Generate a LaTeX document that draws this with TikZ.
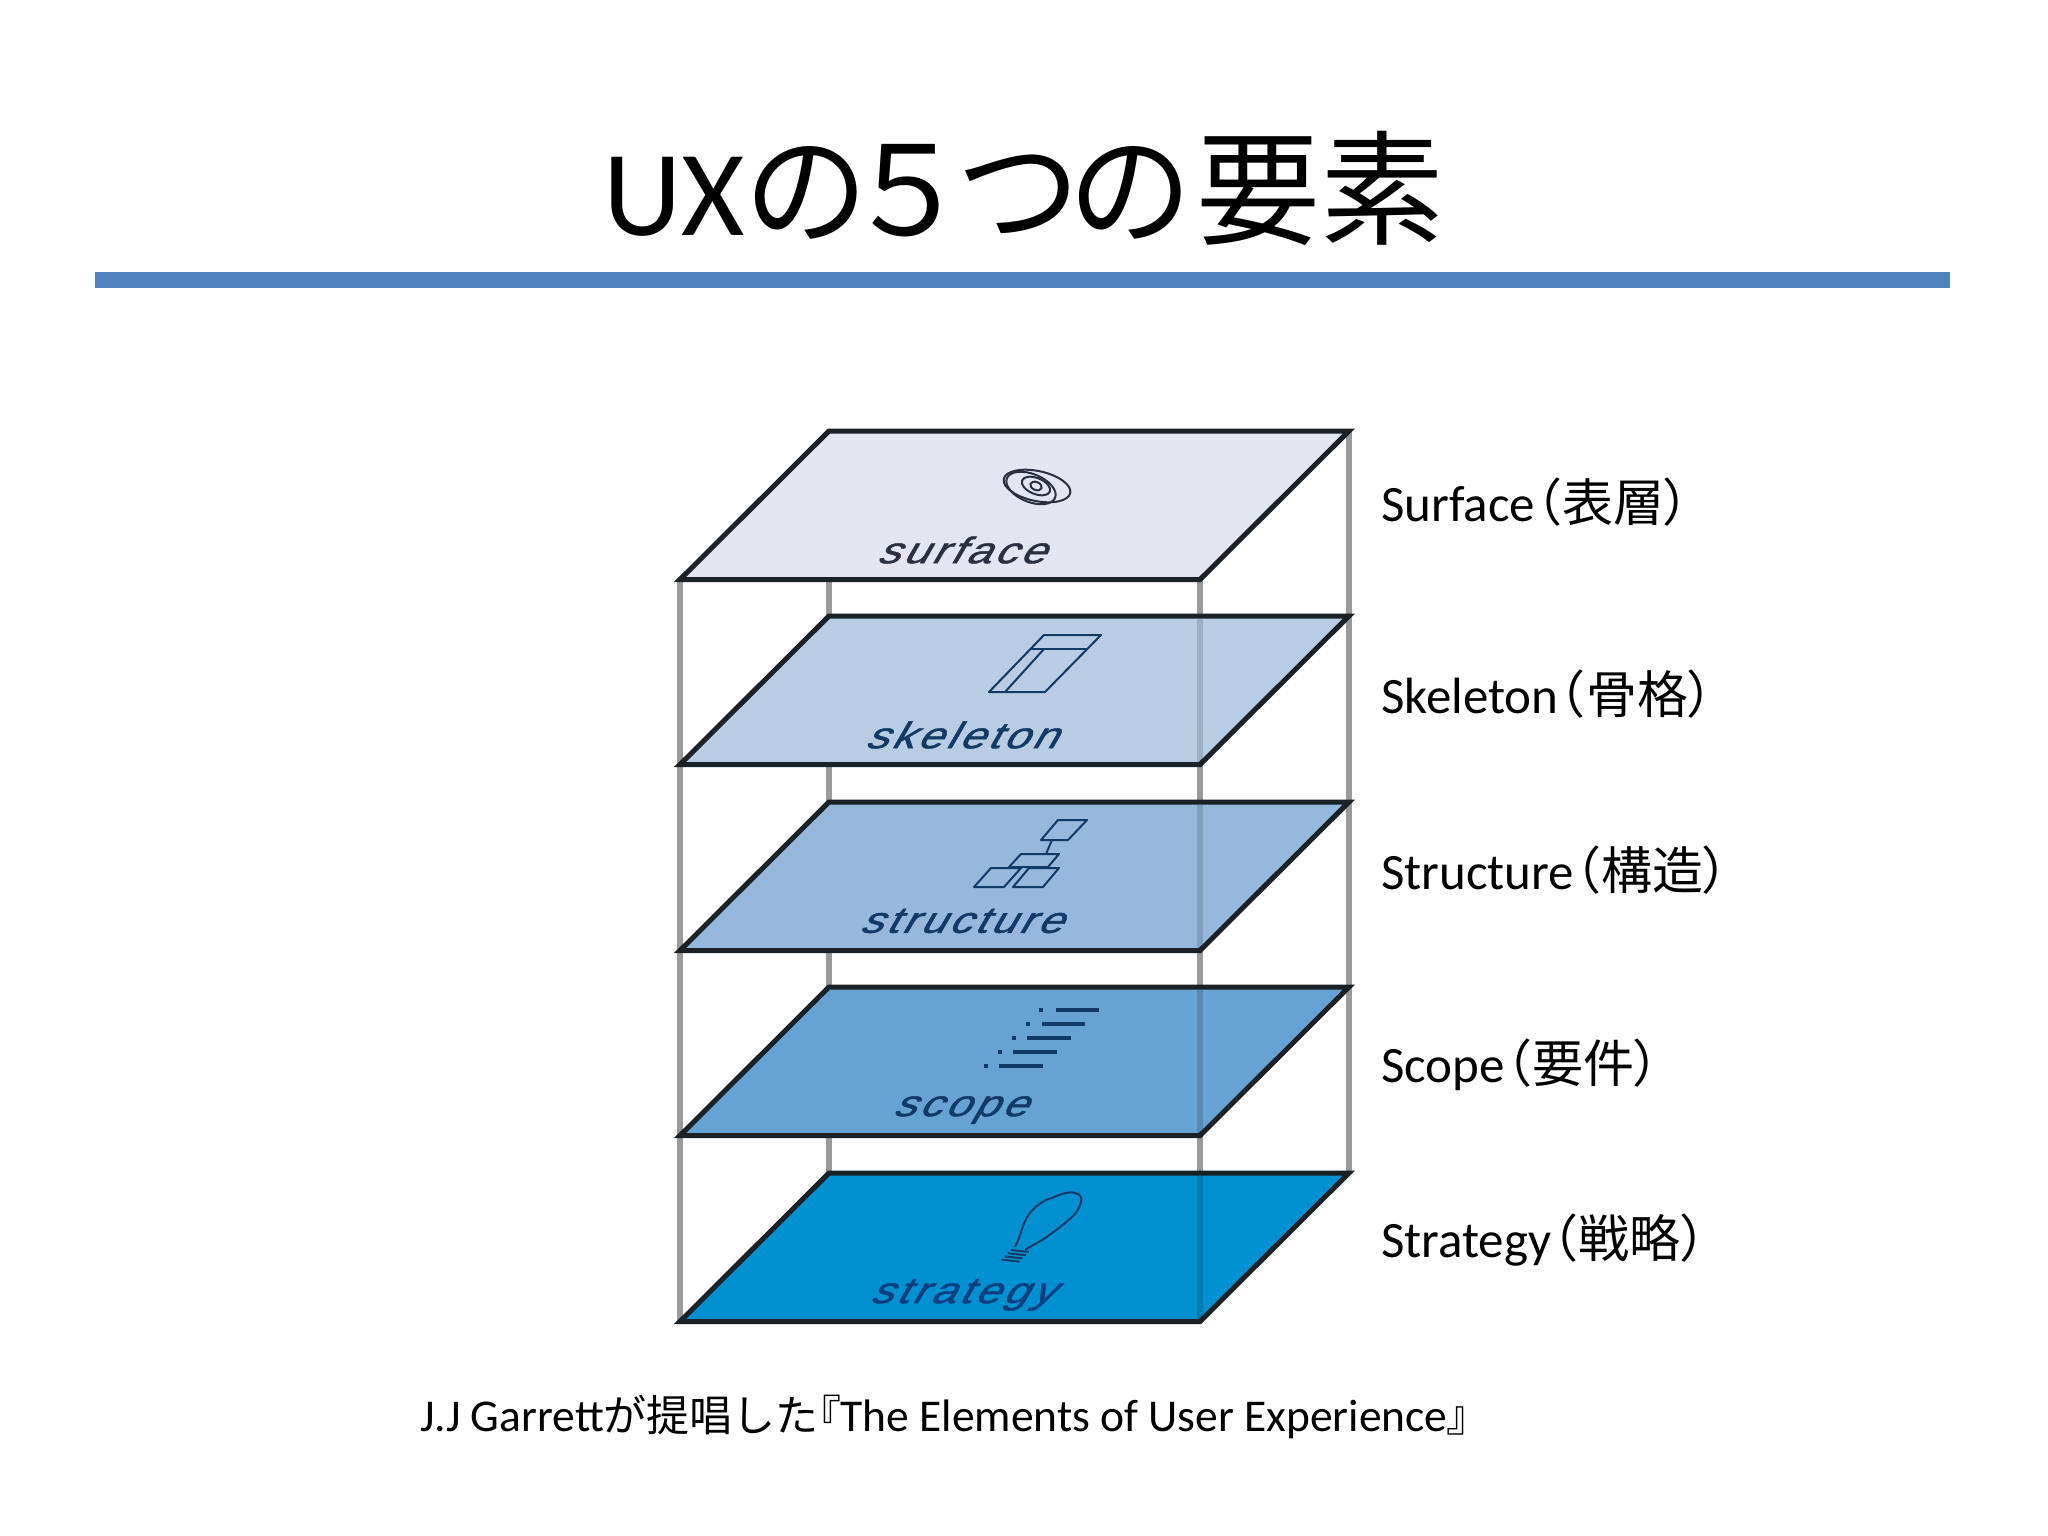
\documentclass[tikz,border=0pt]{standalone}
\usepackage{fontspec}
\setmainfont{Carlito}
\newfontfamily\jp{Noto Sans CJK JP}
\newfontfamily\jpp[RawFeature=+palt]{Noto Sans CJK JP}
\newfontfamily\planefont[FakeSlant=0.58,LetterSpace=9,FakeStretch=1.22,FakeBold=1.2]{Liberation Sans}
\definecolor{barblue}{HTML}{4F81BD}
\definecolor{postgray}{HTML}{9A9A9A}
\definecolor{edgedark}{HTML}{1A2228}
\definecolor{fsurface}{HTML}{E3E6F0}
\definecolor{fskeleton}{HTML}{B8CCE4}
\definecolor{fstructure}{HTML}{95B8DC}
\definecolor{fscope}{HTML}{66A3D2}
\definecolor{fstrategy}{HTML}{0090D0}
\definecolor{inkblue}{HTML}{123A66}
\definecolor{inkgray}{HTML}{2A3040}
\definecolor{inknavy}{HTML}{0B3F80}
\newcommand{\pl}{{\jpp （}\kern.04em}
\newcommand{\pr}{{\jpp ）}}
\tikzset{
  post/.style={draw=postgray,line width=5.5pt},
  postover/.style={draw=black,draw opacity=.14,line width=5.5pt},
  plane/.style={draw=edgedark,line width=5pt,line join=miter},
  sidelabel/.style={anchor=base west,inner sep=0pt,font=\fontsize{51}{51}\selectfont},
  planelabel/.style={inner sep=0pt,text=inkblue,font=\planefont\fontsize{37}{37}\selectfont},
  icon/.style={draw=inkblue,line width=2pt,line join=round},
  iconline/.style={draw=inkblue,line width=3.5pt},
}
\begin{document}
\begin{tikzpicture}[x=1pt,y=-1pt]
\useasboundingbox (0,0) rectangle (2048,1536);
\fill[white] (0,0) rectangle (2048,1536);
\node[anchor=base west,inner sep=0pt,font=\fontsize{122}{122}\selectfont] (title) at (603,235)
  {UX{\jp\fontsize{124}{124}\selectfont の\kern-.19em ５\kern-.1em つ\kern-.1em の\kern.03em 要素}};
\fill[barblue] (95,272) rectangle (1950,288);

% posts
\coordinate (fl) at (680,579); \coordinate (fr) at (1200,579);
\coordinate (bl) at (829,431); \coordinate (br) at (1349,431);
\coordinate (flb) at (680,1322); \coordinate (frb) at (1200,1322);
\coordinate (blb) at (829,1173); \coordinate (brb) at (1349,1173);
\draw[post] (bl) -- (blb);
\draw[post] (br) -- (brb);
\draw[post] (fl) -- (flb);
\draw[post] (fr) -- (frb);

% planes
\foreach \yb/\col in {1173/fstrategy,987/fscope,802/fstructure,616/fskeleton,431/fsurface}{
  \draw[plane,fill=\col] (829,\yb) -- (1349,\yb) -- (1200,\yb+148.5) -- (680,\yb+148.5) -- cycle;
}
\foreach \yb in {1173,987,802,616}{
  \draw[postover] (1200,\yb+3) -- (1200,\yb+146);
}

% plane names
\node[planelabel,text=inkgray] (n1) at (960,550) {surface};
\node[planelabel] (n2) at (960,735) {skeleton};
\node[planelabel] (n3) at (960,921) {structure};
\node[planelabel] (n4) at (959,1110) {scope};
\node[planelabel,text=inknavy] (n5) at (961,1295) {strategy};

% surface icon: disc
\draw[icon,draw=inkgray] (1037,486) ellipse [x radius=34,y radius=15,rotate=-12];
\draw[icon,draw=inkgray] (1031,488) ellipse [x radius=26,y radius=14,rotate=-22];
\draw[icon,draw=inkgray] (1036,486) ellipse [x radius=15,y radius=8,rotate=-22];
\draw[icon,draw=inkgray] (1036,486) ellipse [x radius=6,y radius=4,rotate=-22];

% skeleton icon
\draw[icon] (989,692) -- (1045,692) -- (1101,635) -- (1044,635) -- cycle;
\draw[icon] (1031,649) -- (1087,649);
\draw[icon] (1005,692) -- (1044,649);

% structure icon
\draw[icon] (1041,840) -- (1068,840) -- (1087,820) -- (1058,820) -- cycle;
\draw[icon] (1052,840) -- (1046,854);
\draw[icon] (1021,854) -- (1059,854) -- (1048,867) -- (1009,867) -- cycle;
\draw[icon] (974,887) -- (1004,887) -- (1021,868) -- (991,868) -- cycle;
\draw[icon] (1013,887) -- (1043,887) -- (1059,868) -- (1029,868) -- cycle;

% scope icon
\foreach \y/\xa/\xb/\xd in {1010/1056/1099/1041,1024/1042/1085/1028,1038/1027/1071/1014,1052/1013/1057/1000,1066/999/1043/986}{
  \draw[iconline] (\xa,\y) -- (\xb,\y);
  \draw[iconline] (\xd-2,\y) -- (\xd+2,\y);
}

% strategy icon: bulb
\draw[icon] (1015,1247) .. controls (1021,1236) and (1022,1224) .. (1029,1214)
  .. controls (1036,1205) and (1046,1199) .. (1052,1198)
  .. controls (1060,1194) and (1070,1191) .. (1075,1193)
  .. controls (1081,1194) and (1082,1198) .. (1081,1202)
  .. controls (1079,1210) and (1075,1214) .. (1071,1218)
  .. controls (1063,1225) and (1055,1231) .. (1048,1236)
  .. controls (1040,1242) and (1032,1245) .. (1025,1250);
\foreach \d in {0,4,8,12}{
  \draw[icon] (1011-\d*.8,1250+\d*.8) -- (1029-\d*.8,1252+\d*.8);
}

% side labels
\node[sidelabel] (s1) at (1381,521) {Surface\pl{\jp 表層}\pr};
\node[sidelabel] (s2) at (1381,713) {Skeleton\pl{\jp 骨格}\pr};
\node[sidelabel] (s3) at (1381,889) {Structure\pl{\jp 構造}\pr};
\node[sidelabel] (s4) at (1381,1082) {Scope\pl{\jp 要件}\pr};
\node[sidelabel] (s5) at (1381,1257) {Strategy\pl{\jp 戦略}\pr};

\node[anchor=base west,inner sep=0pt,font=\fontsize{45.5}{46}\selectfont] (src) at (420,1431)
  {J.J Garrett{\jp\fontsize{43}{46}\selectfont が提唱した}{\jpp\fontsize{43}{46}\selectfont 『}The Elements of User Experience{\jpp\fontsize{43}{46}\selectfont 』}};
\end{tikzpicture}
\end{document}
